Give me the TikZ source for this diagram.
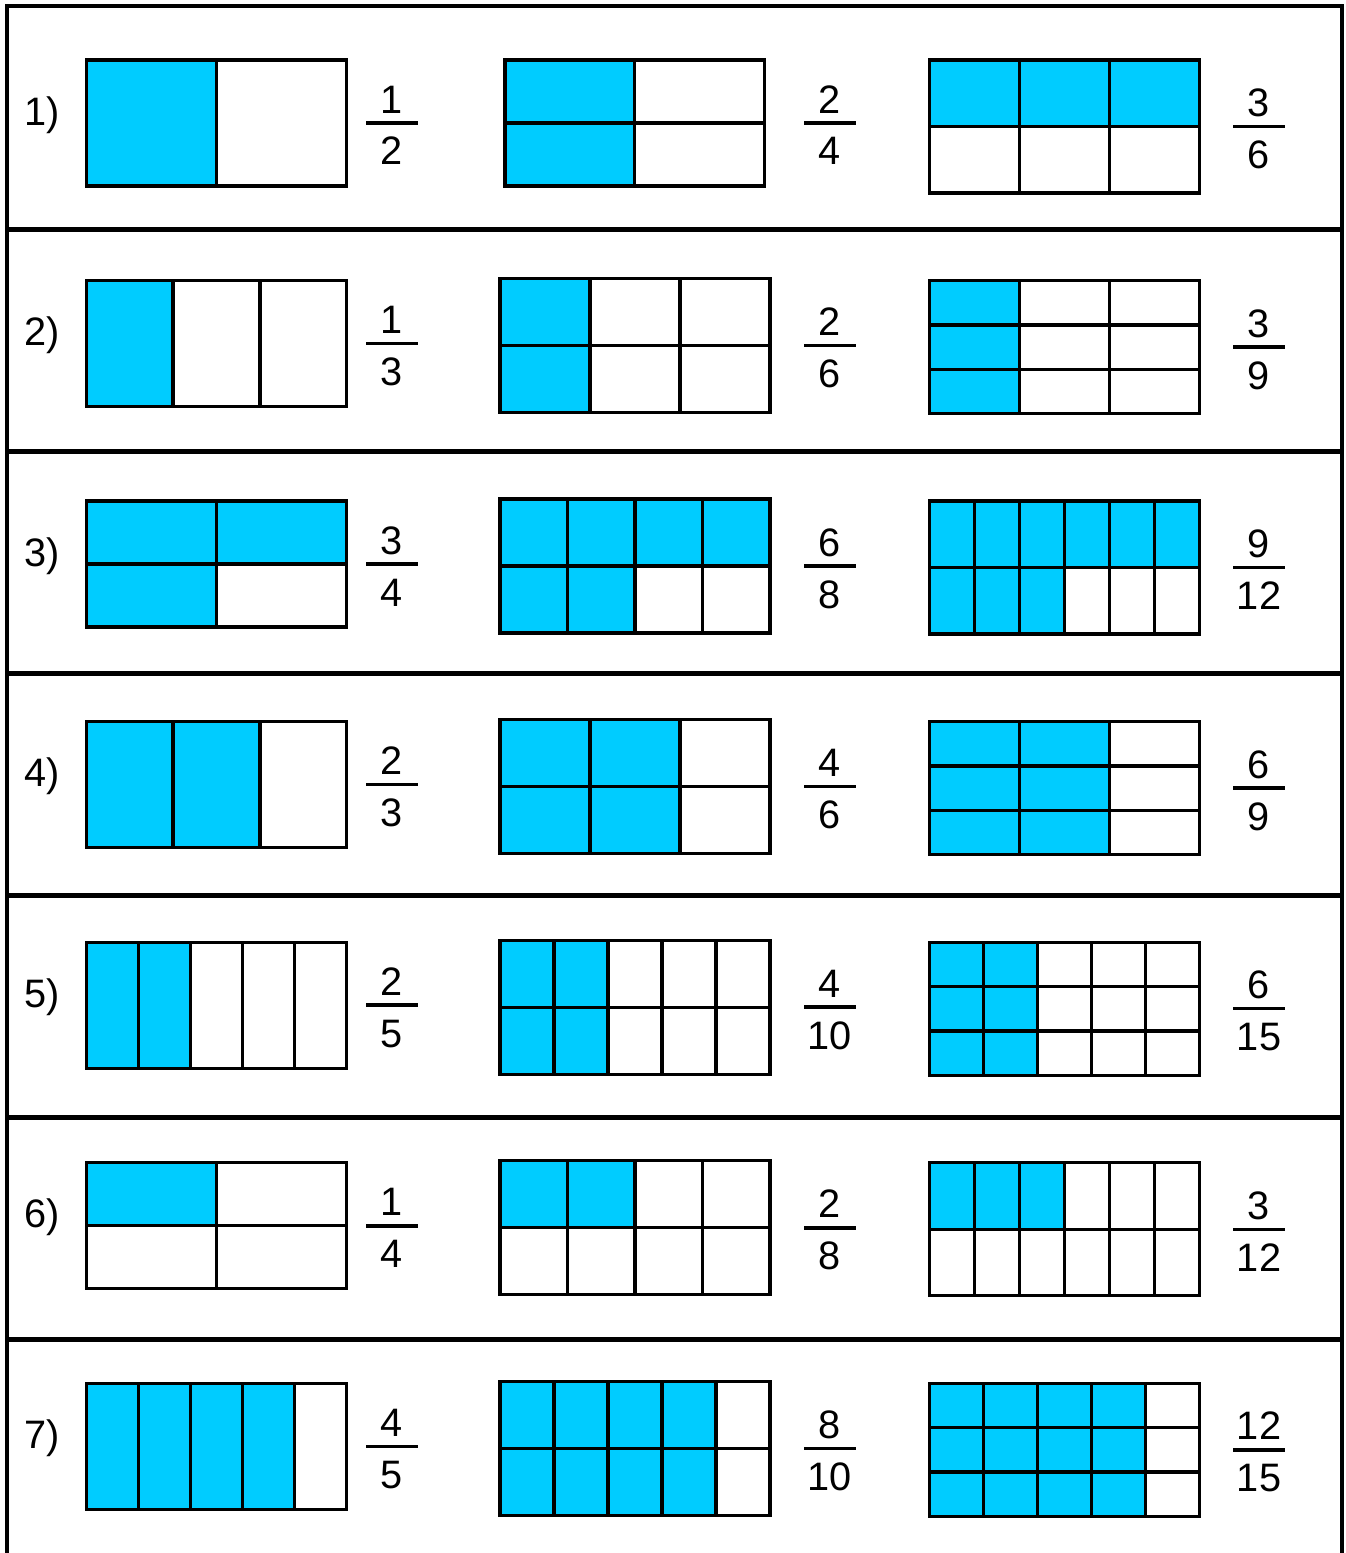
\documentclass[tikz,border=0pt]{standalone}
\usepackage{fontspec}
\setmainfont{Liberation Sans}
\usepackage{xcolor}
\usetikzlibrary{positioning,calc}
\definecolor{fracblue}{HTML}{00CCFF}

% name, x, y, width, height, columns, rows, shaded cells, 1 = fill by columns
\newcommand{\fracmodel}[9]{%
  \foreach \i in {1,...,#6}{
    \foreach \j in {1,...,#7}{
      \pgfmathtruncatemacro{\idx}{#9*((\i-1)*#7+\j)+(1-#9)*((\j-1)*#6+\i)}
      \ifnum\idx>#8\relax\def\cellcol{white}\else\def\cellcol{fracblue}\fi
      \draw[cell, fill=\cellcol] ({#2+(\i-1)*#4/#6},{#3+(\j-1)*#5/#7}) rectangle ++({#4/#6},{#5/#7});
    }
  }
  \draw[cell] (#2,#3) rectangle ++(#4,#5);
  \coordinate (#1) at ({#2+#4/2},{#3+#5/2});
}
% name, column, model, numerator, denominator
\newcommand{\fraclabel}[5]{%
  \coordinate (#1) at (#3 -| #2);
  \draw[fracbar] ([xshift=-0.52cm]#1) -- ([xshift=0.52cm]#1);
  \node[numtext] (#1n) at ([yshift=0.2cm]#1) {#4};
  \node[numtext] (#1d) at ([yshift=-0.84cm]#1) {#5};
}

\begin{document}
\begin{tikzpicture}[
    x=0.02cm, y=-0.02cm,
    cell/.style={draw, line width=1.9pt},
    frame/.style={line width=2.3pt},
    fracbar/.style={line width=2pt},
    numtext/.style={font=\fontsize{22.6}{27}\selectfont, inner sep=0pt, anchor=base}
]
    \useasboundingbox (0,0) rectangle (1346,1553);
    \fill[white] (0,0) rectangle (1346,1553);

    \draw[frame] (7.3,1553) -- (7.3,6.3) -- (1342.3,6.3) -- (1342.3,1553);
    \foreach \k in {1,...,6}
        \draw[frame] (7.3,{229.5+222*(\k-1)}) -- (1342.3,{229.5+222*(\k-1)});

    \coordinate (colL) at (42,0);
    \coordinate (colA) at (392,0);
    \coordinate (colB) at (830,0);
    \coordinate (colC) at (1259,0);

    \fracmodel{m1a}{86.5}{60}{260}{126}{2}{1}{1}{1}
    \fracmodel{m1b}{505}{60}{259.3}{126}{2}{2}{2}{1}
    \fracmodel{m1c}{929.3}{60}{270}{133}{3}{2}{3}{0}

    \fracmodel{m2a}{86.5}{280.55}{260}{126}{3}{1}{1}{1}
    \fracmodel{m2b}{500}{278.5}{270}{134}{3}{2}{2}{1}
    \fracmodel{m2c}{929.3}{280.55}{270}{133}{3}{3}{3}{1}

    \fracmodel{m3a}{86.5}{501.1}{260}{126}{2}{2}{3}{0}
    \fracmodel{m3b}{500}{499.1}{270}{134}{4}{2}{6}{0}
    \fracmodel{m3c}{929.3}{501.1}{270}{133}{6}{2}{9}{0}

    \fracmodel{m4a}{86.5}{721.65}{260}{126}{3}{1}{2}{1}
    \fracmodel{m4b}{500}{719.65}{270}{134}{3}{2}{4}{1}
    \fracmodel{m4c}{929.3}{721.65}{270}{133}{3}{3}{6}{1}

    \fracmodel{m5a}{86.5}{942.2}{260}{126}{5}{1}{2}{1}
    \fracmodel{m5b}{500}{940.2}{270}{134}{5}{2}{4}{1}
    \fracmodel{m5c}{929.3}{942.2}{270}{133}{5}{3}{6}{1}

    \fracmodel{m6a}{86.5}{1162.75}{260}{126}{2}{2}{1}{0}
    \fracmodel{m6b}{500}{1160.75}{270}{134}{4}{2}{2}{0}
    \fracmodel{m6c}{929.3}{1162.75}{270}{133}{6}{2}{3}{0}

    \fracmodel{m7a}{86.5}{1383.3}{260}{126}{5}{1}{4}{1}
    \fracmodel{m7b}{500}{1381.3}{270}{134}{5}{2}{8}{1}
    \fracmodel{m7c}{929.3}{1383.3}{270}{133}{5}{3}{12}{1}

    \node[numtext] (lab1) at ([yshift=-0.04cm]m1a -| colL) {1)};
    \node[numtext] (lab2) at ([yshift=-0.04cm]m2a -| colL) {2)};
    \node[numtext] (lab3) at ([yshift=-0.04cm]m3a -| colL) {3)};
    \node[numtext] (lab4) at ([yshift=-0.04cm]m4a -| colL) {4)};
    \node[numtext] (lab5) at ([yshift=-0.04cm]m5a -| colL) {5)};
    \node[numtext] (lab6) at ([yshift=-0.04cm]m6a -| colL) {6)};
    \node[numtext] (lab7) at ([yshift=-0.04cm]m7a -| colL) {7)};

    \fraclabel{f1a}{colA}{m1a}{1}{2}
    \fraclabel{f1b}{colB}{m1b}{2}{4}
    \fraclabel{f1c}{colC}{m1c}{3}{6}
    \fraclabel{f2a}{colA}{m2a}{1}{3}
    \fraclabel{f2b}{colB}{m2b}{2}{6}
    \fraclabel{f2c}{colC}{m2c}{3}{9}
    \fraclabel{f3a}{colA}{m3a}{3}{4}
    \fraclabel{f3b}{colB}{m3b}{6}{8}
    \fraclabel{f3c}{colC}{m3c}{9}{12}
    \fraclabel{f4a}{colA}{m4a}{2}{3}
    \fraclabel{f4b}{colB}{m4b}{4}{6}
    \fraclabel{f4c}{colC}{m4c}{6}{9}
    \fraclabel{f5a}{colA}{m5a}{2}{5}
    \fraclabel{f5b}{colB}{m5b}{4}{10}
    \fraclabel{f5c}{colC}{m5c}{6}{15}
    \fraclabel{f6a}{colA}{m6a}{1}{4}
    \fraclabel{f6b}{colB}{m6b}{2}{8}
    \fraclabel{f6c}{colC}{m6c}{3}{12}
    \fraclabel{f7a}{colA}{m7a}{4}{5}
    \fraclabel{f7b}{colB}{m7b}{8}{10}
    \fraclabel{f7c}{colC}{m7c}{12}{15}
\end{tikzpicture}
\end{document}
